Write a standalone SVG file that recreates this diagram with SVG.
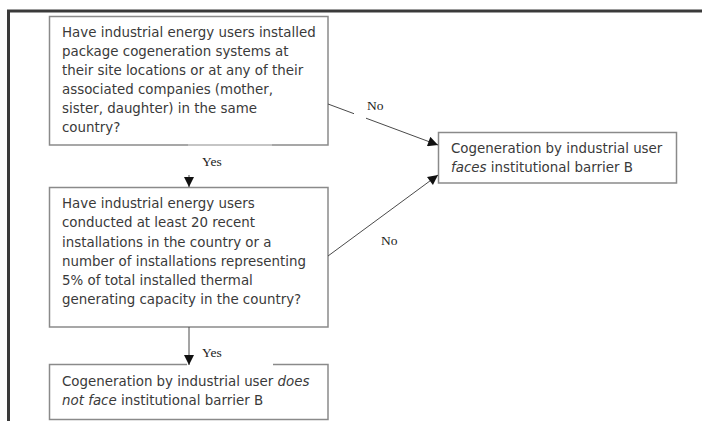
<svg xmlns="http://www.w3.org/2000/svg" width="702" height="421" viewBox="0 0 702 421">
  <style>
    .box { fill: #ffffff; stroke: #8a8a8a; stroke-width: 1.5; }
    .edge { fill: none; stroke: #8a8a8a; stroke-width: 1.5; }
    .txt { font-family: "DejaVu Sans", "Liberation Sans", sans-serif; font-size: 13.4px; fill: #3a3a3a; }
    .lbl { font-family: "Liberation Serif", serif; font-size: 13.5px; fill: #222222; }
    .conn { fill: none; stroke: #4a4a4a; stroke-width: 1; }
  </style>
  <defs>
    <marker id="head" viewBox="0 0 10 10" refX="10" refY="5" markerWidth="11" markerHeight="10" markerUnits="userSpaceOnUse" orient="auto">
      <path d="M0,0 L10,5 L0,10 z" fill="#111111"/>
    </marker>
  </defs>

  <rect width="702" height="421" fill="#ffffff"/>

  <!-- page frame -->
  <path d="M8.5,421 V11 H702" fill="none" stroke="#3a3a3a" stroke-width="3"/>

  <g id="q1">
    <rect class="box" x="49.5" y="16.5" width="278.5" height="128.5"/>
    <line x1="188" y1="145" x2="272" y2="145" stroke="#cfcfcf" stroke-width="1.5"/>
    <text class="txt">
      <tspan x="62" y="37">Have industrial energy users installed</tspan>
      <tspan x="62" y="56">package cogeneration systems at</tspan>
      <tspan x="62" y="75">their site locations or at any of their</tspan>
      <tspan x="62" y="94">associated companies (mother,</tspan>
      <tspan x="62" y="113">sister, daughter) in the same</tspan>
      <tspan x="62" y="132">country?</tspan>
    </text>
  </g>

  <g id="q2">
    <rect class="box" x="49.5" y="187.5" width="278.5" height="139.5"/>
    <text class="txt">
      <tspan x="62" y="208">Have industrial energy users</tspan>
      <tspan x="62" y="227">conducted at least 20 recent</tspan>
      <tspan x="62" y="247">installations in the country or a</tspan>
      <tspan x="62" y="266">number of installations representing</tspan>
      <tspan x="62" y="285">5% of total installed thermal</tspan>
      <tspan x="62" y="304">generating capacity in the country?</tspan>
    </text>
  </g>

  <g id="faces">
    <rect class="box" x="438.5" y="132.5" width="238" height="50.5"/>
    <text class="txt">
      <tspan x="451" y="153">Cogeneration by industrial user</tspan>
      <tspan x="451" y="172"><tspan font-style="italic">faces</tspan> institutional barrier B</tspan>
    </text>
  </g>

  <g id="nofaces">
    <path class="edge" d="M187,364.5 H49.5 V419.5 H328 V364.5 H273"/>
    <text class="txt">
      <tspan x="62" y="386">Cogeneration by industrial user <tspan font-style="italic">does</tspan></tspan>
      <tspan x="62" y="405"><tspan font-style="italic">not face</tspan> institutional barrier B</tspan>
    </text>
  </g>

  <g id="connectors">
    <!-- q1 yes -> q2 -->
    <line class="conn" x1="189" y1="175" x2="189" y2="187" marker-end="url(#head)"/>
    <text class="lbl" x="202" y="166">Yes</text>
    <!-- q1 no -> faces -->
    <line class="conn" x1="328" y1="104" x2="354" y2="113.7"/>
    <line class="conn" x1="366" y1="118.2" x2="438" y2="145" marker-end="url(#head)"/>
    <text class="lbl" x="367" y="110">No</text>
    <!-- q2 no -> faces -->
    <line class="conn" x1="328" y1="256" x2="438" y2="175" marker-end="url(#head)"/>
    <text class="lbl" x="381" y="245">No</text>
    <!-- q2 yes -> does not face -->
    <line class="conn" x1="189" y1="327" x2="189" y2="365" marker-end="url(#head)"/>
    <text class="lbl" x="202" y="357">Yes</text>
  </g>
</svg>
